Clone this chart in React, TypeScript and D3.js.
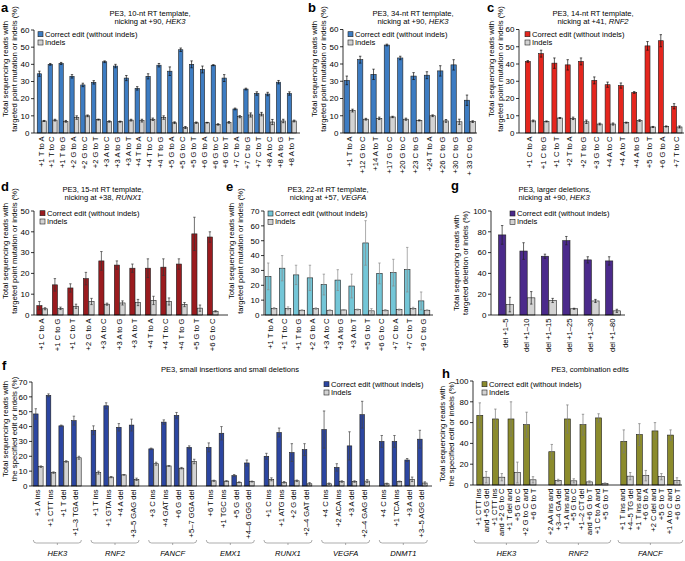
import React from 'react';
import * as d3 from 'd3';

// ---------- Panel a ----------
const catsA = ['+1 T to A','+1 T to C','+1 T to G','+2 G to A','+2 G to C','+2 G to T','+3 A to C','+3 A to G','+3 A to T','+4 T to A','+4 T to C','+4 T to G','+5 G to A','+5 G to C','+5 G to T','+6 G to A','+6 G to C','+6 G to T','+7 C to A','+7 C to G','+7 C to T','+8 A to C','+8 A to G','+8 A to T'];
const editA = [34.5,40,40.5,33,28,29.5,41.5,39,32,26,33,39.5,36,48.5,40,37,39.5,32,14,25.6,23,22.7,29.6,23];
const editErrA = [1.5,0.5,0.6,1,1,1,0.5,1,1.5,1,1.5,1,2.5,1,2,2,0.3,2,0.5,0.5,1,1,1,1];
const indelA = [7,7.5,6.8,9,10,7.8,6.7,6.6,7.5,7.2,8,9,6,3.2,6,6,5,6.2,9.5,10.5,11,6.4,7,7];
const indelErrA = [0.3,0.5,0.5,1,0.5,0.3,0.4,0.3,0.5,0.8,0.7,1,0.5,0.6,0.4,0.2,0.4,0.5,0.6,1.2,1,1.5,1,0.5];

// ---------- Panel b ----------
const catsB = ['+1 T to A','+12 G to C','+14 A to T','+17 G to C','+20 G to C','+23 C to G','+24 T to A','+26 C to G','+30 C to G','+ 33 C to G'];
const editB = [30.5,42.5,34,51,43.5,33,33.5,36,39.5,19];
const editErrB = [2.5,2,3,0.5,1,2,2,3,3,3];
const indelB = [13,8,8.5,9.3,8,7.3,10,7,6.5,6.6];
const indelErrB = [0.8,0.5,0.7,0.4,0.6,0.3,0.5,0.8,1.5,0.5];

// ---------- Panel c ----------
const catsC = ['+1 C to A','+1 C to G','+1 C to T','+2 T to A','+2 T to G','+3 G to C','+4 A to C','+4 A to T','+4 A to G','+5 G to T','+6 G to A','+7 T to C'];
const editC = [41.5,46,40.5,39.5,41.5,30.5,28,27.5,23.5,50.5,53.5,15.5];
const editErrC = [0.5,2,3,3,2,2,1.5,1.5,0.5,2.5,3.5,1.5];
const indelC = [7,6.7,8.7,8.5,6.5,5.2,5.2,6,7.2,3.5,3.8,3.5];
const indelErrC = [0.5,0.3,0.3,0.7,1,0.5,0.6,0.3,0.5,0.3,0.3,0.6];

// ---------- Panel d ----------
const catsD = ['+1 C to A','+1 C to G','+1 C to T','+2 G to A','+3 A to C','+3 A to G','+3 A to T','+4 T to A','+4 T to C','+4 T to G','+5 G to T','+6 G to C'];
const editD = [4.5,14.5,13,17.5,26,24,22.5,22.5,23,24.5,39,37.5];
const editErrD = [2,3,2,3,4.5,2,2,4.5,4,2.5,8,2.5];
const indelD = [3,3.2,4.2,6.5,5.2,5.8,6,7,6.5,5,3.3,1.8];
const indelErrD = [0.5,0.6,1,1.5,0.5,1,1.5,2,1.7,1,1.5,0.3];

// ---------- Panel e ----------
const catsE = ['+1 T to A','+1 T to C','+1 T to G','+2 G to A','+3 A to C','+3 A to G','+3 A to T','+5 G to T','+6 G to C','+7 C to A','+7 C to T','+9 C to G'];
const editE = [26,31.5,27,25,20.5,23.5,19.5,48.5,28,28.5,30.5,9.5];
const editErrE = [9,8.5,6.5,8.5,7,7,8,15,7,9,15,6];
const indelE = [4.5,4.5,3.2,4.3,3.2,3.4,3.6,2.8,3.2,3.6,4.5,3.2];
const indelErrE = [0.5,1,0.3,0.5,0.3,0.2,0.4,1.5,0.5,0.4,0.7,0.3];

// ---------- Panel g ----------
const catsG = ['del +1–5','del +1–10','del +1–15','del +1–25','del +1–30','del +1–80'];
const editG = [77,61.5,56.5,71.5,53,52];
const editErrG = [9,8,2,4,3,4];
const indelG = [10,16.5,14,6,13.5,4];
const indelErrG = [7,6,2,0.5,1.5,1.5];

// ---------- Panel f ----------
const groupsF = ['HEK3','RNF2','FANCF','EMX1','RUNX1','VEGFA','DNMT1'];
const catsF = ['+1 A ins','+1 CTT ins','+1 T del','+1–3 TGA del','+1 T ins','+1 GTA ins','+4 A del','+3–5 GAG del','+3 C ins','+4 GAT ins','+6 G del','+5–7 GGA del','+6 T ins','+1 TGC ins','+5 G del','+4–6 GGG del','+1 C ins','+1 ATG ins','+2 G del','+2–4 GAT del','+4 C ins','+2 ACA ins','+3 A del','+2–4 GAG del','+4 C ins','+1 TCA ins','+3 A del','+3–5 AGG del'];
const editF = [48.5,61,40.5,44,37.5,54,39.5,41,25,43,47.5,26,26,35.5,7,15.5,20,36,22.5,24.5,38,12.5,27,48,30,30,17.5,31.5];
const editErrF = [3.5,1,0.5,3,3,2,2.5,4,0.5,1.5,2,1,3,4.5,0.7,2,2,3,6,4,12.5,2.5,9.5,9,4,4,1,6];
const indelF = [13,9,16.5,19,9,6,7.5,4.5,15,13.5,12,16.5,3.5,3.3,2.5,3,4.5,2.5,3.5,1.5,1.5,3,3,3.3,1.5,3,4.5,2];
const indelErrF = [0.5,0.5,0.5,1,1,0.4,0.2,0.8,1,0.3,0.5,1.5,0.4,0.3,0.3,0.3,1,0.5,0.5,0.8,0.5,0.5,0.5,1,0.4,0.3,1.5,0.8];

// ---------- Panel h ----------
const groupsH = ['HEK3','RNF2','FANCF'];
const catsH1 = ['+1 CTT ins','+1 CTT ins','+1 T del and','+2 G to C and','+2 AA ins and','+1 A ins and','+1–2 CT del','+1 C to A and','+1 T ins and','+1 T ins and','+2 C del and','+1 A to C and'];
const catsH2 = ['and +5 G del','and +2 G to C','+5 G to C','+6 G to T','+3–4 GA del','+5 G to C','and +6 G to T','+5 G to T','+4–5 TG del','+6 G to A','+5 G to T','+6 G to T'];
const editH = [67,63.5,63.5,58,32,63.5,58,64.5,42,48.5,52,48];
const editErrH = [12,9.5,16.5,12,7,13.5,10,4,11,10.5,8,5];
const indelH = [7.5,7.5,12,5,4.5,4,3,1.5,8.5,9,8,4.5];
const indelErrH = [5.5,3.5,10,3,1,2,1,0.5,3.5,5,3,2.5];

const FONT = '"Liberation Sans", Arial, Helvetica, sans-serif';
const FS = 7.6;
const YFS = 7.8;
const INDEL_COLOR = '#d3d3d3';
const STROKE = '#1e1e1e';

type Spec = {
  letter: string; lx: number; ly: number;
  t1: string; t2?: string; gene?: string; tx: number; ty: number; tAnchor?: string;
  x0: number; x1: number; yTop: number; yBot: number; yMax: number; yStep: number;
  centers: number[]; bw: number; labels: string[][];
  edit: number[]; editErr: number[]; indel: number[]; indelErr: number[];
  color: string; errColor: string;
  legX: number; legY: number;
  yLabel: string[]; ylx: number; ylcy: number;
};

function Panel({ s }: { s: Spec }) {
  const y = d3.scaleLinear().domain([0, s.yMax]).range([s.yBot, s.yTop]);
  const ticks = d3.range(0, s.yMax + 1e-6, s.yStep);
  const gap = 0.4;
  const err = (x: number, v: number, e: number, key: string) => {
    const lo = Math.max(0, v - e);
    const hi = v + e;
    return (
      <g key={key} stroke={s.errColor} strokeWidth={0.7}>
        <line x1={x} x2={x} y1={y(lo)} y2={y(hi)} />
        <line x1={x - 1.2} x2={x + 1.2} y1={y(hi)} y2={y(hi)} />
        <line x1={x - 1.2} x2={x + 1.2} y1={y(lo)} y2={y(lo)} />
      </g>
    );
  };
  return (
    <g>
      <text x={s.lx} y={s.ly} fontWeight="bold" fontSize={13}>{s.letter}</text>
      <text x={s.tx} y={s.ty} textAnchor={s.tAnchor || 'middle'} fontSize={FS}>{s.t1}</text>
      {s.t2 !== undefined && (
        <text x={s.tx} y={s.ty + 8.2} textAnchor={s.tAnchor || 'middle'} fontSize={FS}>
          {s.t2}<tspan fontStyle="italic">{s.gene}</tspan>
        </text>
      )}
      {s.yLabel.map((l, i) => (
        <text key={i} transform={`translate(${s.ylx + i * 9},${s.ylcy}) rotate(-90)`} textAnchor="middle" fontSize={YFS}>{l}</text>
      ))}
      <line x1={s.x0} x2={s.x0} y1={y(s.yMax)} y2={y(0)} stroke="#000" strokeWidth={0.8} />
      {ticks.map(t => (
        <g key={t}>
          <line x1={s.x0 - 3} x2={s.x0} y1={y(t)} y2={y(t)} stroke="#000" strokeWidth={0.8} />
          <text x={s.x0 - 4.5} y={y(t)} dy="0.35em" textAnchor="end" fontSize={8}>{t}</text>
        </g>
      ))}
      {s.centers.map((cx, i) => (
        <g key={i}>
          <rect x={cx - gap / 2 - s.bw} y={y(s.edit[i])} width={s.bw} height={y(0) - y(s.edit[i])} fill={s.color} stroke={STROKE} strokeWidth={0.6} />
          <rect x={cx + gap / 2} y={y(s.indel[i])} width={s.bw} height={y(0) - y(s.indel[i])} fill={INDEL_COLOR} stroke={STROKE} strokeWidth={0.6} />
          {err(cx - gap / 2 - s.bw / 2, s.edit[i], s.editErr[i], 'e' + i)}
          {err(cx + gap / 2 + s.bw / 2, s.indel[i], s.indelErr[i], 'n' + i)}
        </g>
      ))}
      <line x1={s.x0} x2={s.x1} y1={y(0)} y2={y(0)} stroke="#000" strokeWidth={0.8} />
      {s.centers.map((cx, i) => {
        const lines = s.labels[i];
        return lines.map((l, k) => {
          const off = (k - (lines.length - 1) / 2) * 7.8 - 0.8;
          return (
            <text key={i + '-' + k} transform={`translate(${cx + off},${y(0) + 3.5}) rotate(-90)`} dy="0.35em" textAnchor="end" fontSize={FS}>{l}</text>
          );
        });
      })}
      <rect x={s.legX} y={s.legY} width={5} height={5} fill={s.color} stroke={STROKE} strokeWidth={0.6} />
      <text x={s.legX + 7} y={s.legY + 5} fontSize={FS}>Correct edit (without indels)</text>
      <rect x={s.legX} y={s.legY + 8.3} width={5} height={5} fill={INDEL_COLOR} stroke={STROKE} strokeWidth={0.6} />
      <text x={s.legX + 7} y={s.legY + 13.3} fontSize={FS}>Indels</text>
    </g>
  );
}

function Brackets({ groups, centers, per, pad, yb }: { groups: string[]; centers: number[]; per: number; pad: number; yb: number }) {
  return (
    <g>
      {groups.map((gname, gi) => {
        const cs = centers.slice(gi * per, gi * per + per);
        const xl = (d3.min(cs) as number) - pad;
        const xr = (d3.max(cs) as number) + pad;
        const mid = (xl + xr) / 2;
        return (
          <g key={gname + gi}>
            <path d={`M${xl},${yb - 3} Q${xl},${yb} ${xl + 3},${yb} L${xr - 3},${yb} Q${xr},${yb} ${xr},${yb - 3} M${mid},${yb} L${mid},${yb + 2}`} fill="none" stroke="#777" strokeWidth={0.6} />
            <text x={mid} y={yb + 12.5} textAnchor="middle" fontSize={FS} fontStyle="italic">{gname}</text>
          </g>
        );
      })}
    </g>
  );
}

const band = (cats: string[], r0: number, r1: number) => {
  const sc = d3.scaleBand<string>().domain(cats).range([r0, r1]);
  return cats.map(c => (sc(c) as number) + sc.bandwidth() / 2);
};
const grouped = (n: number, per: number, start: number, slot: number, gapSlots: number) => {
  const sc = d3.scaleLinear().domain([0, 1]).range([start, start + slot]);
  return d3.range(n).map(i => sc(Math.floor(i / per) * (per + gapSlots) + (i % per)));
};

const yPoint = ['Total sequencing reads with', 'targeted point mutation or indels (%)'];

export default function App() {
  const centersF = grouped(catsF.length, 4, 38.3, 12.7, 0.54);
  const centersH = grouped(catsH1.length, 4, 483, 15.6, 0.615);
  const specs: Spec[] = [
    { letter: 'a', lx: 1, ly: 12, t1: 'PE3, 10-nt RT template,', t2: 'nicking at +90, ', gene: 'HEK3', tx: 150, ty: 15.5,
      x0: 34, x1: 300, yTop: 30, yBot: 133, yMax: 60, yStep: 10, centers: band(catsA, 36.3, 297.2), bw: 4.3,
      labels: catsA.map(c => [c]), edit: editA, editErr: editErrA, indel: indelA, indelErr: indelErrA,
      color: '#3d7cc2', errColor: '#111', legX: 38, legY: 31.7, yLabel: yPoint, ylx: 8.4, ylcy: 69 },
    { letter: 'b', lx: 308, ly: 12, t1: 'PE3, 34-nt RT template,', t2: 'nicking at +90, ', gene: 'HEK3', tx: 413, ty: 15.5,
      x0: 343, x1: 477, yTop: 29.5, yBot: 133, yMax: 60, yStep: 10, centers: band(catsB, 343, 476.5), bw: 5.3,
      labels: catsB.map(c => [c]), edit: editB, editErr: editErrB, indel: indelB, indelErr: indelErrB,
      color: '#3d7cc2', errColor: '#111', legX: 348, legY: 31.7, yLabel: yPoint, ylx: 317.4, ylcy: 69 },
    { letter: 'c', lx: 487, ly: 12, t1: 'PE3, 14-nt RT template,', t2: 'nicking at +41, ', gene: 'RNF2', tx: 593, ty: 15.5,
      x0: 519, x1: 684, yTop: 29.5, yBot: 133, yMax: 60, yStep: 10, centers: band(catsC, 523.85, 683.45), bw: 5,
      labels: catsC.map(c => [c]), edit: editC, editErr: editErrC, indel: indelC, indelErr: indelErrC,
      color: '#e5261e', errColor: '#111', legX: 525, legY: 31.7, yLabel: yPoint, ylx: 494.4, ylcy: 69 },
    { letter: 'd', lx: 1, ly: 191, t1: 'PE3, 15-nt RT template,', t2: 'nicking at +38, ', gene: 'RUNX1', tx: 103, ty: 191.5,
      x0: 34, x1: 228, yTop: 211, yBot: 315, yMax: 50, yStep: 10, centers: band(catsD, 34.45, 220.45), bw: 5.2,
      labels: catsD.map(c => [c]), edit: editD, editErr: editErrD, indel: indelD, indelErr: indelErrD,
      color: '#9a1b1f', errColor: '#333', legX: 40, legY: 210.7, yLabel: yPoint, ylx: 8.4, ylcy: 251 },
    { letter: 'e', lx: 226, ly: 191, t1: 'PE3, 22-nt RT template,', t2: 'nicking at +57, ', gene: 'VEGFA', tx: 328, ty: 191.5,
      x0: 264, x1: 433, yTop: 211, yBot: 315, yMax: 70, yStep: 10, centers: band(catsE, 264.25, 431.05), bw: 5.5,
      labels: catsE.map(c => [c]), edit: editE, editErr: editErrE, indel: indelE, indelErr: indelErrE,
      color: '#74c6d7', errColor: '#8a8a8a', legX: 268, legY: 211, yLabel: yPoint, ylx: 234.4, ylcy: 251 },
    { letter: 'g', lx: 451, ly: 190, t1: 'PE3, larger deletions,', t2: 'nicking at +90, ', gene: 'HEK3', tx: 518.5, ty: 191.5, tAnchor: 'start',
      x0: 491, x1: 625, yTop: 211, yBot: 315, yMax: 100, yStep: 20, centers: band(catsG, 495.3, 623.7), bw: 7.3,
      labels: catsG.map(c => [c]), edit: editG, editErr: editErrG, indel: indelG, indelErr: indelErrG,
      color: '#4b2a8b', errColor: '#222', legX: 510, legY: 211, yLabel: ['Total sequencing reads with', 'targeted deletion or indels (%)'], ylx: 459.4, ylcy: 263 },
    { letter: 'f', lx: 2, ly: 370, t1: 'PE3, small insertions and small deletions', tx: 230, ty: 371.5,
      x0: 32, x1: 432, yTop: 382, yBot: 486, yMax: 70, yStep: 10, centers: centersF, bw: 4.6,
      labels: catsF.map(c => [c]), edit: editF, editErr: editErrF, indel: indelF, indelErr: indelErrF,
      color: '#2c46a1', errColor: '#444', legX: 324, legY: 381.7, yLabel: ['Total sequencing reads with', 'the specified edit or indels (%)'], ylx: 8.4, ylcy: 429 },
    { letter: 'h', lx: 442, ly: 378, t1: 'PE3, combination edits', tx: 590, ty: 371.5,
      x0: 473, x1: 682, yTop: 381, yBot: 485, yMax: 100, yStep: 20, centers: centersH, bw: 6,
      labels: catsH1.map((c, i) => [c, catsH2[i]]), edit: editH, editErr: editErrH, indel: indelH, indelErr: indelErrH,
      color: '#8b8b2c', errColor: '#7a7a7a', legX: 482, legY: 381.7, yLabel: ['Total sequencing reads with', 'the specified edit or indels (%)'], ylx: 445.4, ylcy: 434 },
  ];
  return (
    <svg width={685} height={561} style={{ position: 'absolute', left: 0, top: 0, background: '#fff' }} fontFamily={FONT}>
      <rect x={0} y={0} width={685} height={561} fill="#fff" />
      {specs.map(s => <Panel key={s.letter} s={s} />)}
      <Brackets groups={groupsF} centers={centersF} per={4} pad={5} yb={543} />
      <Brackets groups={groupsH} centers={centersH} per={4} pad={9} yb={543} />
    </svg>
  );
}
